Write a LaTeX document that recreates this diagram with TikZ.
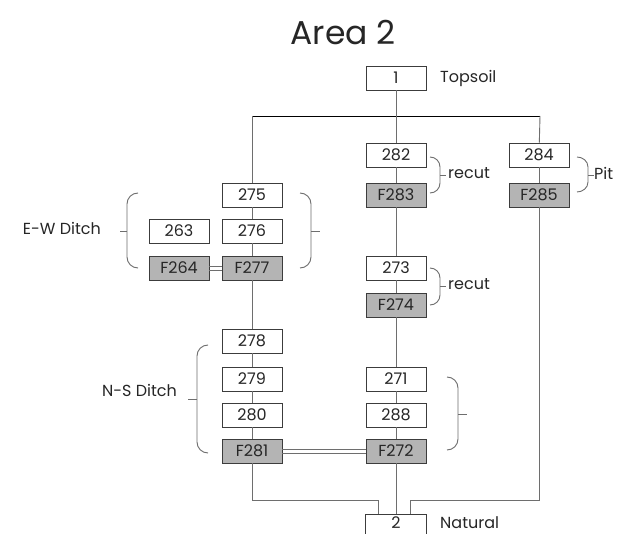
\documentclass[tikz,border=0pt]{standalone}
\usepackage{fontspec}
\setmainfont{Poppins}
\definecolor{lncol}{HTML}{6E6E6E}
\definecolor{bxcol}{HTML}{3C3C3C}
\definecolor{fillF}{HTML}{B4B4B4}
\definecolor{txcol}{HTML}{262626}
\begin{document}
\begin{tikzpicture}[x=1pt,y=-1pt,
  every node/.style={text=txcol,font=\fontsize{16}{18}\selectfont},
  ctx/.style={draw=bxcol,line width=0.8pt,fill=white,minimum width=60pt,minimum height=24pt,inner sep=0pt},
  fctx/.style={ctx,fill=fillF},
  conn/.style={draw=lncol,line width=0.9pt},
  lbl/.style={inner sep=0pt}]
\clip (0,0) rectangle (622,534);
\useasboundingbox (0,0) rectangle (622,534);
\fill[white] (0,0) rectangle (622,534);
\node[lbl,font=\fontsize{33}{36}\selectfont] (title) at (343,33) {Area 2};
% junction points
\coordinate (tl) at (252,116);
\coordinate (tr) at (540,116);
\coordinate (bl) at (378,500);
\coordinate (br) at (410,500);
\node[ctx] (n1) at (396,78) {1};
\node[ctx] (n282) at (396,155) {282};
\node[fctx] (n283) at (396,195) {F283};
\node[ctx] (n273) at (396,268) {273};
\node[fctx] (n274) at (396,305) {F274};
\node[ctx] (n271) at (396,379) {271};
\node[ctx] (n288) at (396,415) {288};
\node[fctx] (n272) at (396,451) {F272};
\node[minimum width=60pt,minimum height=17pt,inner sep=0pt,anchor=north] (n2) at (396,514) {2};
\draw[draw=bxcol,line width=0.8pt] ([yshift=-6pt]n2.south west) -- (n2.north west) -- (n2.north east) -- ([yshift=-6pt]n2.south east);
\node[ctx] (n284) at (539,155) {284};
\node[fctx] (n285) at (539,195) {F285};
\node[ctx] (n275) at (252,195) {275};
\node[ctx] (n276) at (252,231) {276};
\node[fctx] (n277) at (252,268) {F277};
\node[ctx] (n263) at (179,231) {263};
\node[fctx] (n264) at (179,268) {F264};
\node[ctx] (n278) at (252,341) {278};
\node[ctx] (n279) at (252,379) {279};
\node[ctx] (n280) at (252,415) {280};
\node[fctx] (n281) at (252,451) {F281};
% lines
\draw[draw=black,line width=0.9pt] (tl) -- (tr);
\draw[conn] (n1) -- (n282);
\draw[conn] (tl) -- (n275);
\draw[conn] (tr) -- (n284);
\draw[conn] (n282) -- (n283);
\draw[conn] (n283) -- (n273);
\draw[conn] (n273) -- (n274);
\draw[conn] (n274) -- (n271);
\draw[conn] (n271) -- (n288);
\draw[conn] (n288) -- (n272);
\draw[conn] (n272) -- (n2.north);
\draw[conn] (n284) -- (n285);
\draw[conn] (n285) |- (br) -- (br |- n2.north);
\draw[conn] (n275) -- (n276);
\draw[conn] (n276) -- (n277);
\draw[conn] (n277) -- (n278);
\draw[conn] (n278) -- (n279);
\draw[conn] (n279) -- (n280);
\draw[conn] (n280) -- (n281);
\draw[conn] (n281) |- (bl) -- (bl |- n2.north);
\draw[conn] ([yshift=-2pt]n264.east) -- ([yshift=-2pt]n277.west);
\draw[conn] ([yshift=2pt]n264.east) -- ([yshift=2pt]n277.west);
\draw[conn] ([yshift=-2pt]n281.east) -- ([yshift=-2pt]n272.west);
\draw[conn] ([yshift=2pt]n281.east) -- ([yshift=2pt]n272.west);
% braces
\draw[conn] (138,193) to[out=180,in=90] (127,204) -- (127,257) to[out=-90,in=180] (138,268);
\draw[conn] (127,231) -- (120,231);
\draw[conn] (300,193) to[out=0,in=90] (311,204) -- (311,257) to[out=-90,in=0] (300,268);
\draw[conn] (311,231) -- (320,231);
\draw[conn] (430,157) to[out=0,in=90] (440,167) -- (440,183) to[out=-90,in=0] (430,193);
\draw[conn] (440,175) -- (446,175);
\draw[conn] (430,268) to[out=0,in=90] (440,278) -- (440,295) to[out=-90,in=0] (430,305);
\draw[conn] (440,286) -- (446,286);
\draw[conn] (577,157) to[out=0,in=90] (588,167) -- (588,182) to[out=-90,in=0] (577,192);
\draw[conn] (588,175) -- (594,175);
\draw[conn] (208,345) to[out=180,in=90] (197,356) -- (197,442) to[out=-90,in=180] (208,453);
\draw[conn] (197,399) -- (188,399);
\draw[conn] (447,377) to[out=0,in=90] (458,388) -- (458,439) to[out=-90,in=0] (447,450);
\draw[conn] (458,414) -- (467,414);
% labels
\node[lbl,anchor=west] (ltop) at (440,78) {Topsoil};
\node[lbl,anchor=west] (lnat) at (440,523) {Natural};
\node[lbl,anchor=east] (lew) at (101,228) {E-W Ditch};
\node[lbl,anchor=east] (lns) at (177,390) {N-S Ditch};
\node[lbl,anchor=west] (lrc1) at (448,173) {recut};
\node[lbl,anchor=west] (lrc2) at (448,284) {recut};
\node[lbl,anchor=west] (lpit) at (594,173) {Pit};
\end{tikzpicture}
\end{document}
